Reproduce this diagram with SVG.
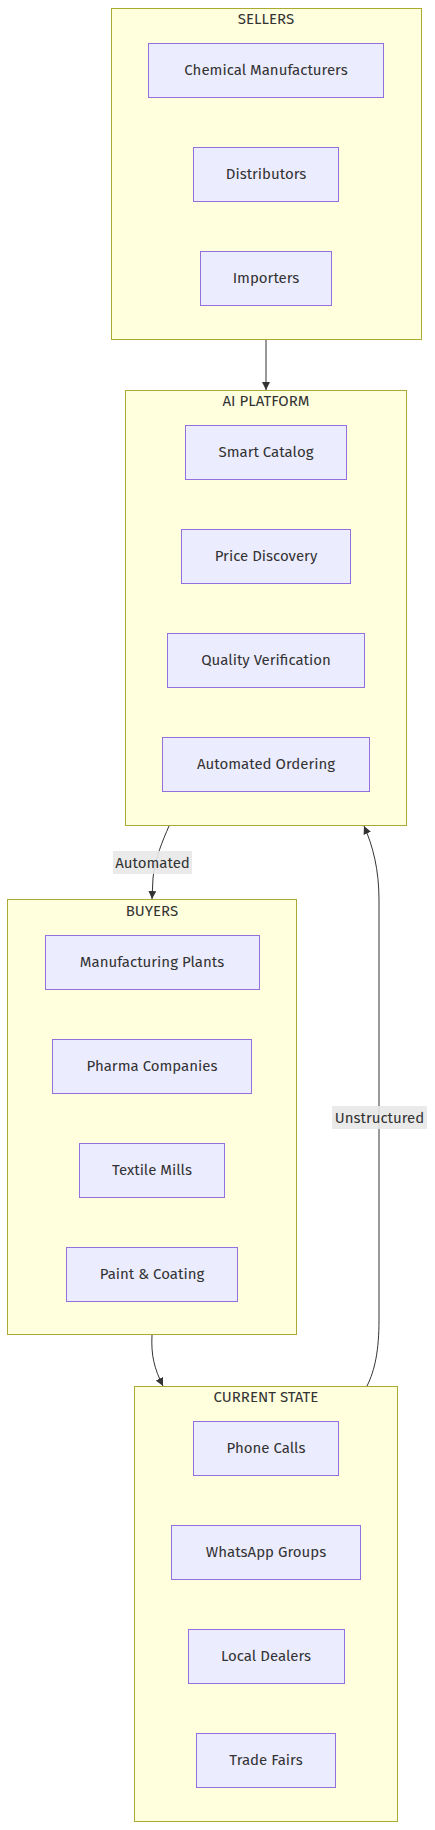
<svg xmlns="http://www.w3.org/2000/svg" width="435" height="1830" viewBox="0 0 435 1830">
<defs>
<marker id="arrow" viewBox="0 0 10 10" refX="10" refY="5" markerWidth="8" markerHeight="8" markerUnits="userSpaceOnUse" orient="auto">
<path d="M0,0 L10,5 L0,10 z" fill="#333333"/>
</marker>
</defs>
<style>
.cluster{fill:#ffffde;stroke:#aaaa33;stroke-width:1}
.node{fill:#ECECFF;stroke:#9370DB;stroke-width:1}
text{font-family:"Fira Sans","Noto Sans","Open Sans",sans-serif;font-size:15px;fill:#333333;text-anchor:middle;dominant-baseline:central}
.edge{fill:none;stroke:#333333;stroke-width:1}
.lbl{fill:#e8e8e8;opacity:0.9}
</style>
<rect width="435" height="1830" fill="#ffffff"/>
<g id="sellers">
<rect class="cluster" x="111.5" y="8.5" width="310" height="331"/>
<text x="266" y="19">SELLERS</text>
</g>
<g id="ai-platform">
<rect class="cluster" x="125.5" y="390.5" width="281" height="435"/>
<text x="266" y="401">AI PLATFORM</text>
</g>
<g id="buyers">
<rect class="cluster" x="7.5" y="899.5" width="289" height="435"/>
<text x="152" y="911">BUYERS</text>
</g>
<g id="current-state">
<rect class="cluster" x="134.5" y="1386.5" width="263" height="435"/>
<text x="266" y="1397">CURRENT STATE</text>
</g>
<g id="chemical-manufacturers"><rect class="node" x="148.5" y="43.5" width="235" height="54"/><text x="266" y="70">Chemical Manufacturers</text></g>
<g id="distributors"><rect class="node" x="193.5" y="147.5" width="145" height="54"/><text x="266" y="174">Distributors</text></g>
<g id="importers"><rect class="node" x="200.5" y="251.5" width="131" height="54"/><text x="266" y="278">Importers</text></g>
<g id="smart-catalog"><rect class="node" x="185.5" y="425.5" width="161" height="54"/><text x="266" y="452">Smart Catalog</text></g>
<g id="price-discovery"><rect class="node" x="181.5" y="529.5" width="169" height="54"/><text x="266" y="556">Price Discovery</text></g>
<g id="quality-verification"><rect class="node" x="167.5" y="633.5" width="197" height="54"/><text x="266" y="660">Quality Verification</text></g>
<g id="automated-ordering"><rect class="node" x="162.5" y="737.5" width="207" height="54"/><text x="266" y="764">Automated Ordering</text></g>
<g id="manufacturing-plants"><rect class="node" x="45.5" y="935.5" width="214" height="54"/><text x="152" y="962">Manufacturing Plants</text></g>
<g id="pharma-companies"><rect class="node" x="52.5" y="1039.5" width="199" height="54"/><text x="152" y="1066">Pharma Companies</text></g>
<g id="textile-mills"><rect class="node" x="79.5" y="1143.5" width="145" height="54"/><text x="152" y="1170">Textile Mills</text></g>
<g id="paint-coating"><rect class="node" x="66.5" y="1247.5" width="171" height="54"/><text x="152" y="1274">Paint &amp; Coating</text></g>
<g id="phone-calls"><rect class="node" x="193.5" y="1421.5" width="145" height="54"/><text x="266" y="1448">Phone Calls</text></g>
<g id="whatsapp-groups"><rect class="node" x="171.5" y="1525.5" width="189" height="54"/><text x="266" y="1552">WhatsApp Groups</text></g>
<g id="local-dealers"><rect class="node" x="188.5" y="1629.5" width="156" height="54"/><text x="266" y="1656">Local Dealers</text></g>
<g id="trade-fairs"><rect class="node" x="196.5" y="1733.5" width="139" height="54"/><text x="266" y="1760">Trade Fairs</text></g>
<g id="connectors">
<path class="edge" d="M266,340 L266,390" marker-end="url(#arrow)"/>
<path class="edge" d="M169,826 C163,840 155,858 153,878 L152,899" marker-end="url(#arrow)"/>
<path class="edge" d="M152,1335 C151,1355 154,1368 163,1386" marker-end="url(#arrow)"/>
<path class="edge" d="M367,1386 C375,1370 379,1350 379,1320 L379,900 C379,870 373,846 364,826" marker-end="url(#arrow)"/>
<rect class="lbl" x="113" y="851" width="79" height="23"/>
<text x="152.5" y="862.5">Automated</text>
<rect class="lbl" x="332" y="1106" width="95" height="23"/>
<text x="379.5" y="1117.5">Unstructured</text>
</g>
</svg>
